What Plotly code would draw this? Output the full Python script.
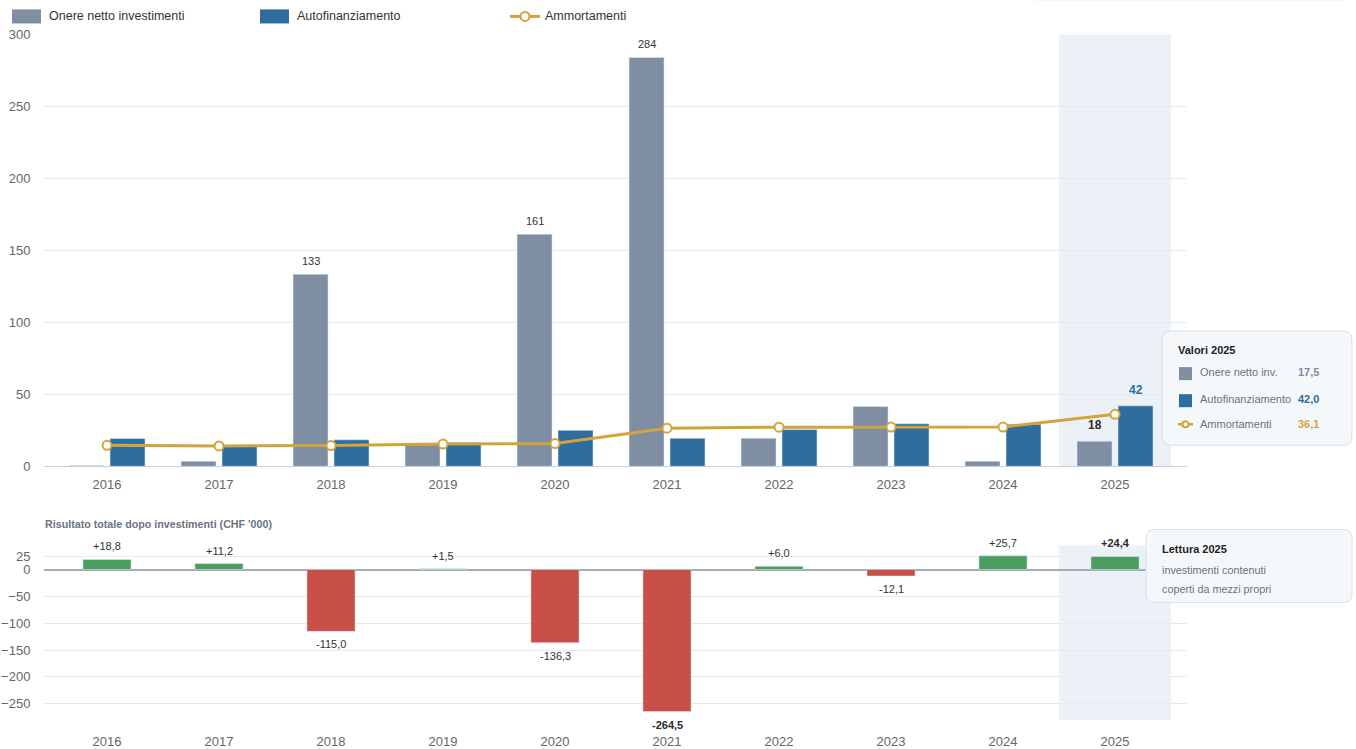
import plotly.graph_objects as go

# ---------------- data ----------------
years = ['2016', '2017', '2018', '2019', '2020', '2021', '2022', '2023', '2024', '2025']
onere = [0.5, 3.5, 133.4, 15.0, 161.3, 284.0, 19.5, 41.6, 3.5, 17.5]
autofin = [19.3, 14.7, 18.4, 16.5, 25.0, 19.5, 25.5, 29.5, 29.2, 42.0]
ammort = [14.6, 14.2, 14.4, 15.5, 15.8, 26.5, 27.2, 27.3, 27.3, 36.1]
risultato = [18.8, 11.2, -115.0, 1.5, -136.3, -264.5, 6.0, -12.1, 25.7, 24.4]
labelled_onere_years = ['2018', '2020', '2021']
top_ticks = [0, 50, 100, 150, 200, 250, 300]
bottom_ticks = [25, 0, -50, -100, -150, -200, -250]
highlight_year = '2025'

# ---------------- styling ----------------
W, H = 1356, 749
FONT = "Liberation Sans, Arial, sans-serif"
C_GRAY = '#7f8ea3'
C_BLUE = '#2e6d9e'
C_GOLD = '#d4a43c'
C_GREEN = '#4c9e60'
C_RED = '#c84e48'
C_HL = '#ecf1f8'
C_GRID = '#e6ebf1'
C_TICK = '#666666'

# vertical compensation for the page capture (measured from previous render)
VA, VB = 0.978, 7.6


def px(x):
    return x / W


def yfig(y):
    return (y - VB) / VA


def py(y):
    return 1 - yfig(y) / H


def fmt_it(v, sign=False):
    s = f"{v:+.1f}" if sign else f"{v:.1f}"
    return s.replace('.', ',')


XDOM = [px(44), px(1187)]
XRANGE = [(44 - 107) / 112, (1187 - 107) / 112]
idx = {y: i for i, y in enumerate(years)}

fig = go.Figure()

# top chart bars
fig.add_trace(go.Bar(x=list(range(len(years))), y=onere, marker_color=C_GRAY,
                     width=0.3125, offset=-0.339, xaxis='x', yaxis='y',
                     showlegend=False, hoverinfo='skip'))
fig.add_trace(go.Bar(x=list(range(len(years))), y=autofin, marker_color=C_BLUE,
                     width=0.3125, offset=0.027, xaxis='x', yaxis='y',
                     showlegend=False, hoverinfo='skip'))
fig.add_trace(go.Scatter(x=list(range(len(years))), y=ammort, mode='lines+markers',
                         line=dict(color=C_GOLD, width=3),
                         marker=dict(symbol='circle', size=9, color='white',
                                     line=dict(color=C_GOLD, width=2)),
                         xaxis='x', yaxis='y', showlegend=False, hoverinfo='skip'))

# bottom chart bars
fig.add_trace(go.Bar(x=list(range(len(years))), y=risultato,
                     marker_color=[C_GREEN if v >= 0 else C_RED for v in risultato],
                     width=0.43, xaxis='x2', yaxis='y2', showlegend=False,
                     hoverinfo='skip'))

annotations = []
# top labels
for y in labelled_onere_years:
    i = idx[y]
    annotations.append(dict(x=i - 0.339 + 0.156, y=onere[i], xref='x', yref='y',
                            text=f"{onere[i]:.0f}", showarrow=False, yshift=13,
                            font=dict(size=11, color='#333333', family=FONT)))
hi = idx[highlight_year]
annotations.append(dict(x=hi - 0.339 + 0.156, y=onere[hi], xref='x', yref='y',
                        text=f"<b>{onere[hi]:.0f}</b>", showarrow=False, yshift=16,
                        font=dict(size=12, color='#2b2b2b', family=FONT)))
annotations.append(dict(x=hi + 0.027 + 0.156, y=autofin[hi], xref='x', yref='y',
                        text=f"<b>{autofin[hi]:.0f}</b>", showarrow=False, yshift=16,
                        font=dict(size=12, color=C_BLUE, family=FONT)))
# bottom labels
for i, v in enumerate(risultato):
    bold = (v == min(risultato)) or (years[i] == highlight_year)
    t = fmt_it(v, sign=True)
    annotations.append(dict(x=i, y=v, xref='x2', yref='y2',
                            text=f"<b>{t}</b>" if bold else t, showarrow=False,
                            yshift=13 if v >= 0 else -13,
                            font=dict(size=11, color='#2b2b2b' if bold else '#333333',
                                      family=FONT)))


def paper_text(x, y, text, size, color):
    annotations.append(dict(x=px(x - 2), y=py(y), xref='paper', yref='paper',
                            xanchor='left', yanchor='middle', showarrow=False,
                            text=text, font=dict(size=size, color=color, family=FONT)))


# subtitle for bottom chart
paper_text(45, 524, "<b>Risultato totale dopo investimenti (CHF '000)</b>", 10.7, '#6b7480')

shapes = []
# highlight bands
shapes.append(dict(type='rect', xref='x', yref='y', x0=hi - 0.5, x1=hi + 0.5,
                   y0=0, y1=300, fillcolor=C_HL, line=dict(width=0), layer='below'))
shapes.append(dict(type='rect', xref='x2', yref='y2 domain', x0=hi - 0.5, x1=hi + 0.5,
                   y0=0, y1=1, fillcolor=C_HL, line=dict(width=0), layer='below'))


# custom legend (top)
def legend_rect(x0, color):
    shapes.append(dict(type='rect', xref='paper', yref='paper', x0=px(x0), x1=px(x0 + 29),
                       y0=py(24), y1=py(10), fillcolor=color, line=dict(width=0)))


def line_icon(xc, yc, half, r, lw):
    shapes.append(dict(type='line', xref='paper', yref='paper', x0=px(xc - half), x1=px(xc + half),
                       y0=py(yc), y1=py(yc), line=dict(color=C_GOLD, width=lw)))
    shapes.append(dict(type='circle', xref='paper', yref='paper', x0=px(xc - r), x1=px(xc + r),
                       y0=py(yc + r), y1=py(yc - r), fillcolor='white',
                       line=dict(color=C_GOLD, width=2)))


legend_rect(12, C_GRAY)
legend_rect(260, C_BLUE)
line_icon(525, 17, 15, 4.5, 3)
for x0, t in [(49, 'Onere netto investimenti'), (297, 'Autofinanziamento'), (545, 'Ammortamenti')]:
    paper_text(x0, 17, t, 12.5, '#333333')

# faint top-right line
shapes.append(dict(type='line', xref='paper', yref='paper', x0=px(1035), x1=px(1345),
                   y0=py(0.5), y1=py(0.5), line=dict(color='#e3e8ee', width=1)))


def rounded_box(x0, y0, x1, y1, r=9):
    rx, ry = r / W, r / H
    X0, X1, Y0, Y1 = px(x0), px(x1), py(y1), py(y0)  # Y0 bottom, Y1 top
    path = (f"M {X0+rx},{Y1} L {X1-rx},{Y1} Q {X1},{Y1} {X1},{Y1-ry} "
            f"L {X1},{Y0+ry} Q {X1},{Y0} {X1-rx},{Y0} L {X0+rx},{Y0} "
            f"Q {X0},{Y0} {X0},{Y0+ry} L {X0},{Y1-ry} Q {X0},{Y1} {X0+rx},{Y1} Z")
    shapes.append(dict(type='path', xref='paper', yref='paper', path=path,
                       fillcolor='#f5f8fb', line=dict(color='#d8e0e9', width=1)))


# box 1: Valori 2025
rounded_box(1162, 331, 1352, 445)
paper_text(1178, 350, f"<b>Valori {highlight_year}</b>", 11, '#222222')
rows = [(372, C_GRAY, 'Onere netto inv.', fmt_it(onere[hi]), C_GRAY, 'rect'),
        (399, C_BLUE, 'Autofinanziamento', fmt_it(autofin[hi]), C_BLUE, 'rect'),
        (424, C_GOLD, 'Ammortamenti', fmt_it(ammort[hi]), C_GOLD, 'line')]
for yc, col, label, val, vcol, kind in rows:
    if kind == 'rect':
        shapes.append(dict(type='rect', xref='paper', yref='paper', x0=px(1179), x1=px(1192),
                           y0=py(yc + 8), y1=py(yc - 5), fillcolor=col, line=dict(width=0)))
    else:
        line_icon(1185.5, yc, 7.5, 3, 2.5)
    paper_text(1200, yc, label, 11, '#6b7280')
    paper_text(1298, yc, f"<b>{val}</b>", 11, vcol)

# box 2: Lettura 2025
rounded_box(1146, 529, 1352, 602)
paper_text(1162, 549, f"<b>Lettura {highlight_year}</b>", 11, '#222222')
for yc, t in [(569, 'investimenti contenuti'), (588, 'coperti da mezzi propri')]:
    paper_text(1162, yc, t, 10.8, '#6b7280')

axis_font = dict(size=13, color=C_TICK, family=FONT)

fig.update_layout(
    width=W, height=H,
    margin=dict(l=0, r=0, t=0, b=0),
    paper_bgcolor='white', plot_bgcolor='rgba(0,0,0,0)',
    font=dict(family=FONT),
    barmode='overlay',
    xaxis=dict(domain=XDOM, range=XRANGE, anchor='y', tickmode='array',
               tickvals=list(range(len(years))), ticktext=years, tickfont=axis_font,
               showgrid=False, zeroline=False, showline=True, linecolor='#c6d0dc',
               linewidth=1, ticks='outside', ticklen=6, tickcolor='rgba(0,0,0,0)',
               fixedrange=True),
    yaxis=dict(domain=[py(466), py(35)], range=[0, 300], anchor='x', tickmode='array',
               tickvals=top_ticks, tickfont=axis_font, showgrid=True, gridcolor=C_GRID,
               gridwidth=1, zeroline=False, ticks='outside', ticklen=10,
               tickcolor='rgba(0,0,0,0)', fixedrange=True),
    xaxis2=dict(domain=XDOM, range=XRANGE, anchor='y2', tickmode='array',
                tickvals=list(range(len(years))), ticktext=years, tickfont=axis_font,
                showgrid=False, zeroline=False, showline=False, ticks='outside',
                ticklen=10, tickcolor='rgba(0,0,0,0)', fixedrange=True),
    yaxis2=dict(domain=[py(719), py(545)], range=[-279.9, 44.8], anchor='x2',
                tickmode='array', tickvals=bottom_ticks, tickfont=axis_font,
                showgrid=True, gridcolor=C_GRID, gridwidth=1, zeroline=True,
                zerolinecolor='#a3abb5', zerolinewidth=1.5, ticks='outside',
                ticklen=10, tickcolor='rgba(0,0,0,0)', fixedrange=True),
    shapes=shapes,
    annotations=annotations,
)

page_fix = (
    "document.documentElement.style.margin='0';"
    "document.documentElement.style.overflow='hidden';"
    "document.body.style.margin='0';"
    "document.body.style.padding='0';"
    "document.body.style.overflow='hidden';"
    "var gd=document.getElementById('{plot_id}');"
    "gd.style.position='fixed';gd.style.left='0px';gd.style.top='0px';"
)

fig.write_html("out.html", post_script=page_fix, config={'displayModeBar': False})
